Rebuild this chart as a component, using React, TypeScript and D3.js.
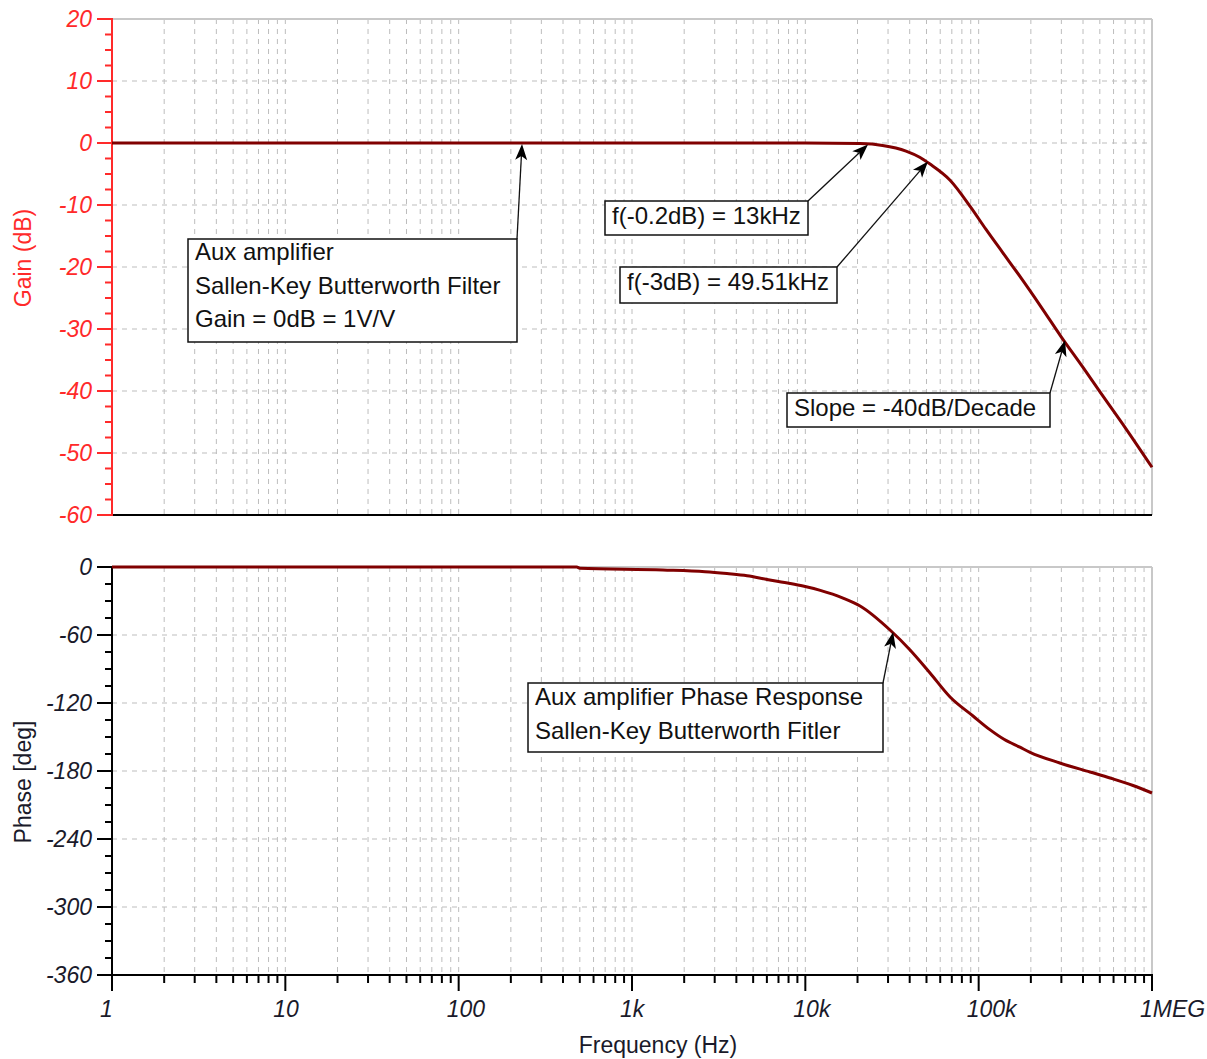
import * as d3 from 'd3';

// frequency axis
const freqTicks = [1, 10, 100, 1000, 10000, 100000, 1000000];
const freqTickLabels = ['1', '10', '100', '1k', '10k', '100k', '1MEG'];
const gainTicks = [20, 10, 0, -10, -20, -30, -40, -50, -60];
const phaseTicks = [0, -60, -120, -180, -240, -300, -360];

// gain curve
const gainFreq = [1, 100, 1000, 10000, 20700, 27900, 38100, 45700, 52400, 68400, 89700, 110000, 137000, 178000, 230000, 300000, 400000, 500000, 700000, 1000000];
const gainDb = [0, 0, 0, 0, -0.1, -0.4, -1.3, -2.3, -3.4, -6.0, -10.3, -13.9, -17.6, -22.0, -26.5, -31.3, -36.2, -40.1, -45.9, -52.3];

// phase curve
const phaseFreq = [1, 100, 480, 500, 1510, 2640, 3530, 4610, 6010, 8160, 9700, 12200, 16500, 20700, 30800, 40200, 52400, 68400, 92800, 116000, 140000, 173000, 198000, 294000, 439000, 573000, 777000, 1000000];
const phaseDeg = [0, 0, 0, -1.1, -2.6, -4.1, -5.8, -7.7, -11.0, -14.5, -16.8, -20.6, -27.4, -34.4, -55.6, -73.2, -93.5, -114.7, -131.5, -143.5, -152, -159, -163.5, -172.9, -180.9, -186.2, -192.8, -199.4];

// annotation texts
const noteGain = ['Aux amplifier', 'Sallen-Key Butterworth Filter', 'Gain = 0dB = 1V/V'];
const noteLowCorner = ['f(-0.2dB) = 13kHz'];
const noteCorner = ['f(-3dB) = 49.51kHz'];
const noteSlope = ['Slope = -40dB/Decade'];
const notePhase = ['Aux amplifier Phase Response', 'Sallen-Key Butterworth Fitler'];

const W = 1207;
const H = 1059;
const FONT = "'Liberation Sans', Arial, sans-serif";
const RED = '#ff2a2a';
const CURVE = '#800000';
const GRID = '#bdbdbd';

const x = d3.scaleLog().domain([1, 1e6]).range([112, 1152]);
const yG = d3.scaleLinear().domain([-60, 20]).range([515, 19]);
const yP = d3.scaleLinear().domain([-360, 0]).range([975, 567]);

const minorFreqs: number[] = [];
for (let e = 0; e < 6; e++) {
  for (let m = 1; m < 10; m++) minorFreqs.push(m * Math.pow(10, e));
}
minorFreqs.push(1e6);

const range = (a: number, b: number, s: number) => d3.range(a, b + s / 2, s);

function Note({ lines, box, tip, lh = 33.5, base = 21 }: {
  lines: string[];
  box: [number, number, number, number];
  tip: [number, number];
  lh?: number;
  base?: number;
}) {
  const [bx, by, bw, bh] = box;
  const sx = bx + bw;
  const sy = by;
  const ang = Math.atan2(tip[1] - sy, tip[0] - sx);
  const len = 16;
  const hw = 6;
  const bxp = tip[0] - len * Math.cos(ang);
  const byp = tip[1] - len * Math.sin(ang);
  const px = -Math.sin(ang);
  const py = Math.cos(ang);
  const head = `M${tip[0]},${tip[1]}L${bxp + px * hw},${byp + py * hw}L${bxp + Math.cos(ang) * 4},${byp + Math.sin(ang) * 4}L${bxp - px * hw},${byp - py * hw}Z`;
  return (
    <g>
      <line x1={sx} y1={sy} x2={bxp + Math.cos(ang) * 4} y2={byp + Math.sin(ang) * 4} stroke="#111" strokeWidth={1.3} />
      <path d={head} fill="#000" />
      <rect x={bx} y={by} width={bw} height={bh} fill="#fff" stroke="#111" strokeWidth={1.5} />
      {lines.map((t, i) => (
        <text key={i} x={bx + 7} y={by + base + i * lh} fontSize={24} fill="#111" fontFamily={FONT}>
          {t}
        </text>
      ))}
    </g>
  );
}

export default function App() {
  const gainLine = d3
    .line<number>()
    .x((_, i) => x(gainFreq[i]))
    .y((d) => yG(d))
    .curve(d3.curveMonotoneX)(gainDb) ?? '';
  const phaseLine = d3
    .line<number>()
    .x((_, i) => x(phaseFreq[i]))
    .y((d) => yP(d))
    .curve(d3.curveMonotoneX)(phaseDeg) ?? '';

  const vGrid = minorFreqs.filter((f) => f > 1 && f < 1e6);

  return (
    <svg width={W} height={H} style={{ position: 'absolute', left: 0, top: 0, background: '#fff' }} fontFamily={FONT}>
      <rect width={W} height={H} fill="#fff" />

      {/* grids */}
      <g stroke={GRID} strokeWidth={1} strokeDasharray="5,5">
        {vGrid.map((f) => (
          <line key={'gt' + f} x1={x(f)} x2={x(f)} y1={yG(20)} y2={yG(-60)} />
        ))}
        {vGrid.map((f) => (
          <line key={'gb' + f} x1={x(f)} x2={x(f)} y1={yP(0)} y2={yP(-360)} />
        ))}
        {gainTicks.slice(1, -1).map((t) => (
          <line key={'hg' + t} x1={x(1)} x2={x(1e6)} y1={yG(t)} y2={yG(t)} />
        ))}
        {phaseTicks.slice(1, -1).map((t) => (
          <line key={'hp' + t} x1={x(1)} x2={x(1e6)} y1={yP(t)} y2={yP(t)} />
        ))}
      </g>

      {/* frame borders */}
      <g stroke="#c8c8c8" strokeWidth={2}>
        <line x1={x(1)} x2={x(1e6)} y1={yG(20)} y2={yG(20)} />
        <line x1={x(1e6)} x2={x(1e6)} y1={yG(20)} y2={yG(-60)} />
        <line x1={x(1)} x2={x(1e6)} y1={yP(0)} y2={yP(0)} />
        <line x1={x(1e6)} x2={x(1e6)} y1={yP(0)} y2={yP(-360)} />
      </g>
      <line x1={x(1)} x2={x(1e6)} y1={yG(-60)} y2={yG(-60)} stroke="#000" strokeWidth={2} />
      <line x1={x(1)} x2={x(1e6) + 1} y1={yP(-360)} y2={yP(-360)} stroke="#000" strokeWidth={2} />

      {/* gain y axis */}
      <g stroke={RED} strokeWidth={2}>
        <line x1={x(1)} x2={x(1)} y1={yG(20) - 1} y2={yG(-60) + 1} />
        {range(-60, 20, 2.5).map((t) => (
          <line key={'gm' + t} x1={x(1) - (t % 10 === 0 ? 15 : 7)} x2={x(1)} y1={yG(t)} y2={yG(t)} />
        ))}
      </g>
      {gainTicks.map((t) => (
        <text key={'gl' + t} x={92} y={yG(t) + 8} textAnchor="end" fontSize={23} fontStyle="italic" fill={RED}>
          {t}
        </text>
      ))}
      <text transform={`translate(31,${258}) rotate(-90)`} textAnchor="middle" fontSize={23} fill={RED}>
        Gain (dB)
      </text>

      {/* phase y axis */}
      <g stroke="#000" strokeWidth={2}>
        <line x1={x(1)} x2={x(1)} y1={yP(0) - 1} y2={yP(-360) + 1} />
        {range(-360, 0, 15).map((t) => (
          <line key={'pm' + t} x1={x(1) - (t % 60 === 0 ? 15 : 7)} x2={x(1)} y1={yP(t)} y2={yP(t)} />
        ))}
      </g>
      {phaseTicks.map((t) => (
        <text key={'pl' + t} x={92} y={yP(t) + 8} textAnchor="end" fontSize={23} fontStyle="italic" fill="#1a1a2a">
          {t}
        </text>
      ))}
      <text transform={`translate(31,${782}) rotate(-90)`} textAnchor="middle" fontSize={23} fill="#1a1a2a">
        Phase [deg]
      </text>

      {/* x axis */}
      <g stroke="#000" strokeWidth={2}>
        {minorFreqs.map((f) => {
          const major = freqTicks.includes(f);
          return <line key={'xt' + f} x1={x(f)} x2={x(f)} y1={yP(-360)} y2={yP(-360) + (major ? 16 : 8)} />;
        })}
      </g>
      {freqTicks.map((f, i) => (
        <text key={'xl' + f} x={x(f) - 12} y={1017} fontSize={23} fontStyle="italic" fill="#1a1a2a">
          {freqTickLabels[i]}
        </text>
      ))}
      <text x={658} y={1053} textAnchor="middle" fontSize={23} fill="#1a1a2a">
        Frequency (Hz)
      </text>

      {/* curves */}
      <path d={gainLine} fill="none" stroke={CURVE} strokeWidth={3} />
      <path d={phaseLine} fill="none" stroke={CURVE} strokeWidth={3} />

      {/* annotations */}
      <Note lines={noteGain} box={[188, 239, 329, 103]} tip={[x(232), yG(0) + 1]} />
      <Note lines={noteLowCorner} box={[605, 201, 203, 34]} tip={[x(23000), yG(-0.1) + 1]} base={23} />
      <Note lines={noteCorner} box={[620, 267, 217, 36]} tip={[x(51000), yG(-3)]} base={23} />
      <Note lines={noteSlope} box={[787, 393, 263, 34]} tip={[x(315000), yG(-31.8)]} base={23} />
      <Note lines={notePhase} box={[528, 683, 355, 69]} tip={[x(32100), yP(-57.4)]} base={22} />
    </svg>
  );
}
